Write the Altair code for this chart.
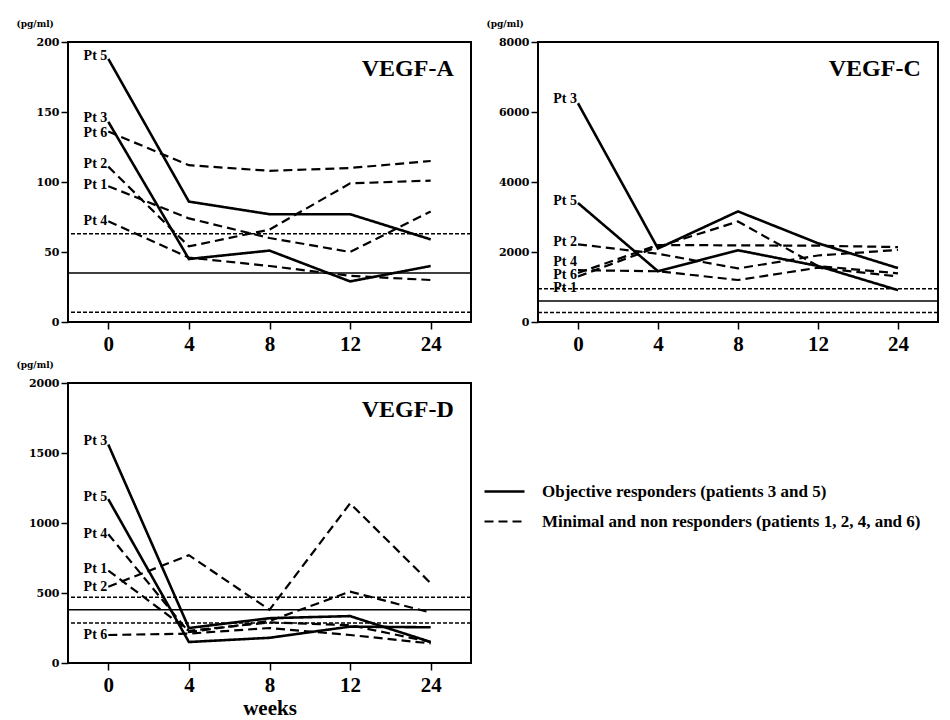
import altair as alt
import pandas as pd

weeks = ["0", "4", "8", "12", "24"]
responders = ["Pt 3", "Pt 5"]
GROUP_SOLID = "Objective responders (patients 3 and 5)"
GROUP_DASH = "Minimal and non responders (patients 1, 2, 4, and 6)"

# VEGF-A (pg/ml)
a_pt1 = [97, 74, 60, 50, 79]
a_pt2 = [111, 54, 66, 99, 101]
a_pt3 = [143, 45, 51, 29, 40]
a_pt4 = [72, 46, 40, 33, 30]
a_pt5 = [188, 86, 77, 77, 59]
a_pt6 = [136, 112, 108, 110, 115]
a_label_pos = {"Pt 5": 190, "Pt 3": 146, "Pt 6": 135, "Pt 2": 113, "Pt 1": 98, "Pt 4": 72}
a_ref_mean = [35]
a_ref_band = [63, 7]
a_ticks = [0, 50, 100, 150, 200]

# VEGF-C (pg/ml)
c_pt1 = [1300, 2150, 2870, 1600, 1390]
c_pt2 = [2220, 1950, 1530, 1900, 2060]
c_pt3 = [6250, 2100, 3160, 2250, 1540]
c_pt4 = [1400, 2200, 2190, 2180, 2140]
c_pt5 = [3400, 1450, 2050, 1600, 910]
c_pt6 = [1480, 1450, 1200, 1550, 1300]
c_label_pos = {"Pt 3": 6370, "Pt 5": 3450, "Pt 2": 2300, "Pt 4": 1725, "Pt 6": 1340, "Pt 1": 958}
c_ref_mean = [600]
c_ref_band = [950, 270]
c_ticks = [0, 2000, 4000, 6000, 8000]

# VEGF-D (pg/ml)
d_pt1 = [660, 230, 290, 270, 150]
d_pt2 = [545, 770, 380, 1140, 570]
d_pt3 = [1560, 250, 320, 335, 150]
d_pt4 = [920, 220, 300, 510, 360]
d_pt5 = [1170, 150, 180, 260, 255]
d_pt6 = [200, 210, 250, 200, 140]
d_label_pos = {"Pt 3": 1583, "Pt 5": 1184, "Pt 4": 921, "Pt 1": 675, "Pt 2": 544, "Pt 6": 198}
d_ref_mean = [380]
d_ref_band = [470, 285]
d_ticks = [0, 500, 1000, 1500, 2000]

SERIF = "Liberation Serif"
WIDE_SERIF = "DejaVu Serif"


def series_df(series):
    rows = []
    for pt, vals in series.items():
        grp = GROUP_SOLID if pt in responders else GROUP_DASH
        for w, v in zip(weeks, vals):
            rows.append({"patient": pt, "week": w, "value": v, "group": grp})
    return pd.DataFrame(rows)


def panel(series, label_pos, ref_mean, ref_band, ymax, yticks, name, xtitle):
    df = series_df(series)
    lab = pd.DataFrame({"patient": list(label_pos.keys()),
                        "value": list(label_pos.values()),
                        "week": ["0"] * len(label_pos)})
    x_axis = alt.Axis(labelAngle=0, labelFont=SERIF, labelFontSize=21, labelFontWeight="bold",
                      labelColor="black", tickSize=7, tickColor="black", tickWidth=1.5,
                      domain=False, grid=False, labelPadding=4,
                      title=xtitle if xtitle else None,
                      titleFont=SERIF, titleFontSize=21, titleFontWeight="bold",
                      titlePadding=2, titleColor="black")
    y_axis = alt.Axis(values=yticks, format="d", labelFont=WIDE_SERIF, labelFontSize=11,
                      labelFontWeight="bold",
                      labelColor="black", tickSize=7, tickColor="black", tickWidth=1.5,
                      domain=False, grid=False, labelPadding=2,
                      title="(pg/ml)", titleAngle=0, titleX=-52, titleY=-16,
                      titleAlign="left", titleBaseline="alphabetic",
                      titleFont=WIDE_SERIF, titleFontSize=9, titleFontWeight="bold", titleColor="black")
    x = alt.X("week:N", sort=weeks, scale=alt.Scale(type="point", padding=0.5), axis=x_axis)
    y = alt.Y("value:Q", scale=alt.Scale(domain=[0, ymax], nice=False), axis=y_axis)

    lines = alt.Chart(df).mark_line(color="black").encode(
        x=x, y=y, detail="patient:N",
        strokeDash=alt.StrokeDash(
            "group:N",
            scale=alt.Scale(domain=[GROUP_SOLID, GROUP_DASH], range=[[1, 0], [9, 5]]),
            legend=alt.Legend(orient="none", legendX=415, legendY=428, title=None,
                              symbolType="stroke", symbolSize=1600, symbolStrokeWidth=2.5,
                              symbolStrokeColor="black",
                              labelFont=SERIF, labelFontSize=17, labelFontWeight="bold",
                              labelColor="black", labelOffset=16, rowPadding=-17,
                              labelLimit=500)),
        strokeWidth=alt.StrokeWidth(
            "group:N",
            scale=alt.Scale(domain=[GROUP_SOLID, GROUP_DASH], range=[2.6, 2.2]),
            legend=None),
    )
    mean_rule = alt.Chart(pd.DataFrame({"value": ref_mean})).mark_rule(
        color="black", strokeWidth=1.5).encode(y="value:Q")
    band_rule = alt.Chart(pd.DataFrame({"value": ref_band})).mark_rule(
        color="black", strokeWidth=1.5, strokeDash=[4, 2]).encode(y="value:Q")
    labels = alt.Chart(lab).mark_text(
        align="right", baseline="middle", dx=-1, font=SERIF, fontSize=14,
        fontWeight="bold", color="black").encode(x=x, y=y, text="patient:N")

    return alt.layer(mean_rule, band_rule, lines, labels).properties(
        width=403, height=280,
        title=alt.TitleParams(name, anchor="end", orient="top", dx=-18, dy=66,
                              font=SERIF, fontSize=24, fontWeight="bold", color="black"),
    )


A = panel({"Pt 1": a_pt1, "Pt 2": a_pt2, "Pt 3": a_pt3, "Pt 4": a_pt4, "Pt 5": a_pt5, "Pt 6": a_pt6},
          a_label_pos, a_ref_mean, a_ref_band, 200, a_ticks, "VEGF-A", None)
C = panel({"Pt 1": c_pt1, "Pt 2": c_pt2, "Pt 3": c_pt3, "Pt 4": c_pt4, "Pt 5": c_pt5, "Pt 6": c_pt6},
          c_label_pos, c_ref_mean, c_ref_band, 8000, c_ticks, "VEGF-C", None).properties(width=400)
D = panel({"Pt 1": d_pt1, "Pt 2": d_pt2, "Pt 3": d_pt3, "Pt 4": d_pt4, "Pt 5": d_pt5, "Pt 6": d_pt6},
          d_label_pos, d_ref_mean, d_ref_band, 2000, d_ticks, "VEGF-D", "weeks")

chart = alt.vconcat(
    alt.hconcat(A, C, spacing=12),
    D,
    spacing=4,
).resolve_scale(strokeDash="shared", strokeWidth="shared").properties(
    padding={"left": 7, "top": 10, "right": 2, "bottom": 2},
    background="white",
).configure_view(stroke="black", strokeWidth=2)

chart.save("out.html", embed_options={"renderer": "svg", "actions": False})
